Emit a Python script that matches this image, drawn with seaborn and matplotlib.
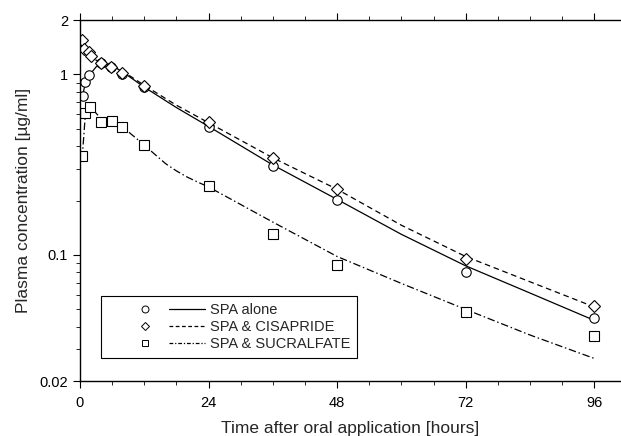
import numpy as np
import pandas as pd
import matplotlib
matplotlib.use("Agg")
import matplotlib.pyplot as plt
import seaborn as sns
from matplotlib.lines import Line2D
from matplotlib.legend_handler import HandlerBase
from matplotlib.ticker import LogLocator, NullFormatter, FixedLocator, MultipleLocator

alone_t = [0.5, 1, 1.75, 3.9, 5.8, 7.8, 11.9, 24, 36, 48, 72, 96]
alone_c = [0.76, 0.91, 0.99, 1.16, 1.10, 1.01, 0.85, 0.513, 0.311, 0.201, 0.080, 0.0445]

cis_t = [0.36, 0.75, 1.75, 2.0, 3.9, 5.8, 7.8, 11.9, 24, 36, 48, 72, 96]
cis_c = [1.56, 1.38, 1.335, 1.27, 1.15, 1.10, 1.02, 0.86, 0.547, 0.345, 0.231, 0.095, 0.052]

suc_t = [0.4, 0.9, 1.9, 3.9, 5.9, 7.8, 11.9, 24, 36, 48, 72, 96]
suc_c = [0.354, 0.61, 0.66, 0.542, 0.551, 0.51, 0.406, 0.240, 0.130, 0.088, 0.0484, 0.0357]

# Fitted curves
fit_alone_t = [0.5, 1, 2, 3, 4, 6, 8, 12, 18, 24, 36, 48, 60, 72, 84, 96]
fit_alone_c = [0.76, 0.90, 1.01, 1.10, 1.15, 1.12, 1.03, 0.85, 0.655, 0.515, 0.315, 0.203, 0.130, 0.087, 0.0615, 0.0434]

fit_cis_t = [0, 0.5, 1, 2, 3, 4, 6, 8, 12, 18, 24, 36, 48, 60, 72, 84, 96]
fit_cis_c = [1.62, 1.50, 1.40, 1.27, 1.20, 1.16, 1.12, 1.04, 0.87, 0.675, 0.54, 0.345, 0.231, 0.146, 0.098, 0.071, 0.0515]

fit_suc_t = [0.4, 1, 1.5, 2, 3, 4, 6, 8, 12, 14, 16, 18, 20, 22, 24, 36, 48, 60, 72, 84, 96]
fit_suc_c = [0.34, 0.60, 0.65, 0.66, 0.61, 0.565, 0.536, 0.51, 0.406, 0.36, 0.32, 0.292, 0.27, 0.253, 0.238,
             0.152, 0.098, 0.0695, 0.0499, 0.036, 0.0267]

labels = ["SPA alone", "SPA & CISAPRIDE", "SPA & SUCRALFATE"]

sns.set_style("ticks")
plt.rcParams["font.family"] = ["Liberation Sans", "DejaVu Sans"]

fig = plt.figure(figsize=(6.21, 4.36), dpi=100)
ax = fig.add_axes([0.1288, 0.126, 0.8712, 0.828])

line_kw = dict(color="black", linewidth=0.9)
sns.lineplot(x=fit_alone_t, y=fit_alone_c, ax=ax, linestyle="-", **line_kw)
sns.lineplot(x=fit_cis_t, y=fit_cis_c, ax=ax, **line_kw).lines[-1].set_dashes((4.5, 3))
sns.lineplot(x=fit_suc_t, y=fit_suc_c, ax=ax, **line_kw).lines[-1].set_dashes((6, 2.2, 1.2, 2.2))

mk_kw = dict(color="black", linestyle="", markerfacecolor="white", markeredgecolor="black",
             markeredgewidth=0.8, markersize=6.8)
ax.plot(alone_t, alone_c, marker="o", **mk_kw)
ax.plot(cis_t, cis_c, marker="D", **dict(mk_kw, markersize=5.8))
ax.plot(suc_t, suc_c, marker="s", **mk_kw)

ax.set_yscale("log")
ax.set_ylim(0.02, 2)
ax.set_xlim(0, 101)
ax.yaxis.set_major_locator(FixedLocator([0.02, 0.1, 1, 2]))
ax.set_yticklabels(["0.02", "0.1", "1", "2"])
ax.yaxis.set_minor_locator(LogLocator(base=10, subs=np.arange(2, 10)))
ax.yaxis.set_minor_formatter(NullFormatter())
ax.set_xticks([0, 24, 48, 72, 96])
ax.xaxis.set_minor_locator(MultipleLocator(6))

ax.tick_params(axis="both", which="major", direction="out", length=5, width=0.8,
               labelsize=10.5, colors="black", top=True)
ax.tick_params(axis="both", which="minor", direction="out", length=3, width=0.7, top=True)
ax.tick_params(axis="x", pad=6)

for side in ["left", "top", "bottom"]:
    ax.spines[side].set_linewidth(1.0)
    ax.spines[side].set_color("black")
ax.spines["right"].set_visible(False)

ax.set_xlabel("Time after oral application [hours]", fontsize=12.5, labelpad=8)
ax.set_ylabel("Plasma concentration [\u00b5g/ml]", fontsize=12.5, labelpad=6)


class MarkerLineHandler(HandlerBase):
    def create_artists(self, legend, orig_handle, xdescent, ydescent, width, height, fontsize, trans):
        mk, ln = orig_handle
        y = height / 2 - ydescent
        x0 = -xdescent
        m = Line2D([x0 + 0.38 * width], [y])
        m.update_from(mk)
        m.set_transform(trans)
        l = Line2D([x0 + 0.63 * width, x0 + width], [y, y])
        l.update_from(ln)
        l.set_transform(trans)
        return [m, l]


mk_legend = dict(linestyle="", markerfacecolor="white", markeredgecolor="black", markeredgewidth=0.7)
handles = [
    (Line2D([], [], marker="o", markersize=5, **mk_legend), Line2D([], [], color="black", lw=0.9)),
    (Line2D([], [], marker="D", markersize=4.5, **mk_legend), Line2D([], [], color="black", lw=0.9, dashes=(3, 2))),
    (Line2D([], [], marker="s", markersize=5, **mk_legend), Line2D([], [], color="black", lw=0.9, dashes=(3, 1.5, 1, 1.5))),
]
leg = ax.legend(handles, labels, handler_map={tuple: MarkerLineHandler()},
                loc="lower left", bbox_to_anchor=(0.039, 0.064), borderaxespad=0,
                fontsize=10.5, handlelength=6.6, handletextpad=0.35, labelspacing=0.2,
                borderpad=0.5, fancybox=False, framealpha=1, edgecolor="black")
leg.get_frame().set_linewidth(0.8)

fig.savefig("out.png", dpi=100)
